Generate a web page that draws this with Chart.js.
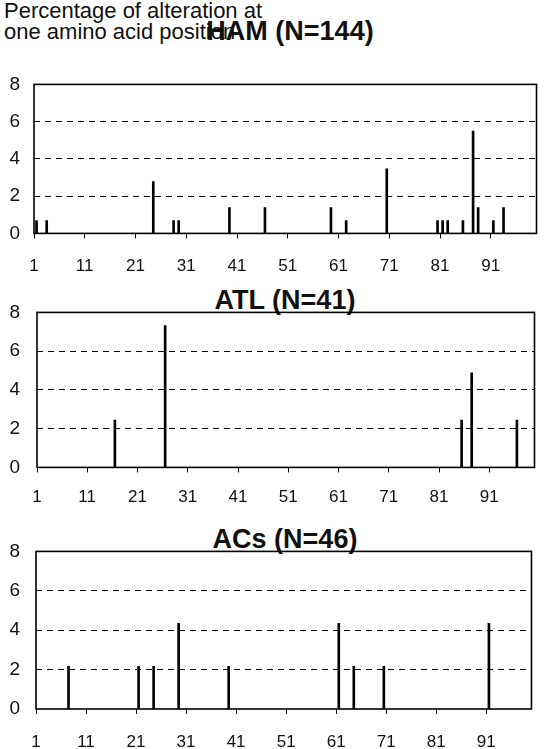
<!DOCTYPE html>
<html lang="en">
<head>
<meta charset="UTF-8">
<title>Percentage of alteration at one amino acid position</title>
<script src="https://cdn.jsdelivr.net/npm/chart.js@4.4.1/dist/chart.umd.min.js"></script>
<style>
    html, body { margin: 0; padding: 0; background: #fff; overflow: hidden; }
    body { width: 547px; height: 749px; position: relative; font-family: Arial, "Liberation Sans", sans-serif; color: #111; }
    .caption { position: absolute; left: 4px; top: 0px; font-size: 22px; line-height: 21px; white-space: nowrap; }
    .title { position: absolute; font-weight: bold; font-size: 27px; line-height: 27px; white-space: nowrap; transform: translateX(-50%); }
    canvas { position: absolute; left: 0; }
</style>
</head>
<body>

<div class="caption">Percentage of alteration at<br>one amino acid position</div>
<div class="title" style="left:290px; top:18px;">HAM (N=144)</div>
<div class="title" style="left:285px; top:287px;">ATL (N=41)</div>
<div class="title" style="left:285px; top:526px;">ACs (N=46)</div>

<canvas id="hamChart" width="552" height="230" style="top:50px;"></canvas>
<canvas id="atlChart" width="547" height="230" style="top:285px;"></canvas>
<canvas id="acsChart" width="547" height="230" style="top:525px;"></canvas>

<script>
    // amino acid positions 1..99 (protease)
    var aminoPositions = [];
    for (var i = 1; i <= 99; i++) aminoPositions.push(String(i));

    var yTicks = [0, 2, 4, 6, 8];

    // HAM (N=144)
    var hamPos = [1, 3, 24, 28, 29, 39, 46, 59, 62, 70, 80, 81, 82, 85, 87, 88, 91, 93];
    var hamPct = [0.69, 0.69, 2.78, 0.69, 0.69, 1.39, 1.39, 1.39, 0.69, 3.47, 0.69, 0.69, 0.69, 0.69, 5.5, 1.39, 0.69, 1.39];

    // ATL (N=41)
    var atlPos = [16, 26, 85, 87, 96];
    var atlPct = [2.44, 7.32, 2.44, 4.88, 2.44];

    // ACs (N=46)
    var acsPos = [7, 21, 24, 29, 39, 61, 64, 70, 91];
    var acsPct = [2.17, 2.17, 2.17, 4.35, 2.17, 4.35, 2.17, 2.17, 4.35];

    function toSeries(pos, pct) {
        var d = aminoPositions.map(function () { return null; });
        pos.forEach(function (p, i) { d[p - 1] = pct[i]; });
        return d;
    }

    var boxPlugin = {
        id: 'box',
        afterDatasetsDraw: function (chart) {
            var a = chart.chartArea, c = chart.ctx;
            c.save();
            c.strokeStyle = '#000';
            c.lineWidth = 1.6;
            c.strokeRect(a.left, a.top, a.right - a.left, a.bottom - a.top);
            c.restore();
        }
    };

    function createChart(id, pos, pct, lay) {
        var canvas = document.getElementById(id);
        var chart = new Chart(canvas.getContext('2d'), {
            type: 'bar',
            data: {
                labels: aminoPositions,
                datasets: [{
                    data: toSeries(pos, pct),
                    backgroundColor: '#000',
                    barThickness: 2
                }]
            },
            options: {
                responsive: false,
                animation: false,
                layout: { padding: { top: 0, right: lay.right, bottom: 0, left: 0 } },
                plugins: { legend: { display: false }, tooltip: { enabled: false } },
                scales: {
                    x: {
                        offset: true,
                        grid: {
                            offset: true,
                            drawOnChartArea: false,
                            tickLength: 5,
                            tickColor: function (c) { return c.index % 10 === 0 ? '#000' : 'rgba(0,0,0,0)'; }
                        },
                        border: { display: false },
                        ticks: {
                            autoSkip: false,
                            maxRotation: 0,
                            minRotation: 0,
                            padding: lay.xPad,
                            labelOffset: -2.6,
                            color: '#111',
                            font: { family: '"Liberation Sans Narrow", "Arial Narrow", Arial', size: 17 },
                            callback: function (v, i) { return i % 10 === 0 ? aminoPositions[i] : ''; }
                        },
                        afterFit: function (s) { s.height = 45; }
                    },
                    y: {
                        min: 0,
                        max: 8,
                        afterBuildTicks: function (s) { s.ticks = yTicks.map(function (v) { return { value: v }; }); },
                        ticks: { padding: lay.yPad, color: '#111', font: { family: 'Arial', size: 19 } },
                        grid: {
                            drawTicks: false,
                            color: function (c) { return (c.tick && c.tick.value > 0 && c.tick.value < 8) ? '#000' : 'rgba(0,0,0,0)'; },
                            lineWidth: 1
                        },
                        border: { display: false, dash: [6, 5] },
                        afterFit: function (s) { s.width = lay.yW; }
                    }
                }
            },
            plugins: [boxPlugin]
        });

        // put the plot area where the original has it
        var a = chart.chartArea;
        var canvasTop = lay.plotTop - a.top;
        canvas.style.top = canvasTop + 'px';
        chart.options.layout.padding.bottom = Math.max(0, a.bottom - (lay.plotBottom - canvasTop));
        chart.update();
        return chart;
    }

    createChart('hamChart', hamPos, hamPct, { plotTop: 84, plotBottom: 233, right: 2, xPad: 18, yW: 34, yPad: 14 });
    createChart('atlChart', atlPos, atlPct, { plotTop: 312, plotBottom: 467, right: 4, xPad: 15, yW: 37, yPad: 17 });
    createChart('acsChart', acsPos, acsPct, { plotTop: 551, plotBottom: 711, right: 7, xPad: 18, yW: 36, yPad: 16 });
</script>

</body>
</html>
